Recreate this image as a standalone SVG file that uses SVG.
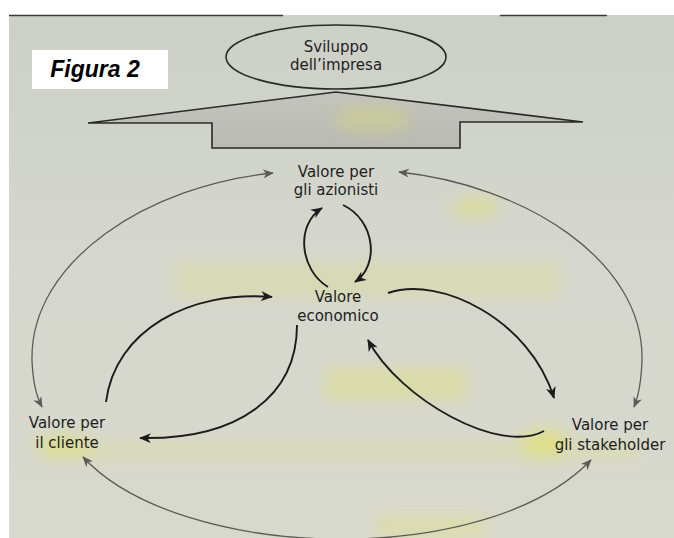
<svg xmlns="http://www.w3.org/2000/svg" width="674" height="538" viewBox="0 0 674 538">
  <style>
    .lbl { font-family: "DejaVu Sans", "Open Sans", sans-serif; font-size: 15px; fill: #1e1e1e; text-anchor: middle; }
    .inner { fill: none; stroke: #1c1c1c; stroke-width: 1.9; marker-end: url(#headBlack); }
    .outer { fill: none; stroke: #5a5a58; stroke-width: 1.3; marker-end: url(#headGray); marker-start: url(#headGray); }
    .hl { fill: #e2e45e; filter: url(#soft); }
  </style>
  <defs>
    <linearGradient id="page" x1="0" y1="0" x2="0" y2="1">
      <stop offset="0" stop-color="#cdd0c6"/>
      <stop offset="0.45" stop-color="#d5d7ce"/>
      <stop offset="1" stop-color="#d8d9cd"/>
    </linearGradient>
    <linearGradient id="arrowFill" x1="0" y1="0" x2="0" y2="1">
      <stop offset="0" stop-color="#c3c4be"/>
      <stop offset="1" stop-color="#b9bab3"/>
    </linearGradient>
    <filter id="soft" x="-50%" y="-80%" width="200%" height="260%">
      <feGaussianBlur stdDeviation="8"/>
    </filter>
    <clipPath id="bigClip">
      <polygon points="88,123 336,92 583,122 460,122 460,148 212,148 212,123"/>
    </clipPath>
    <marker id="headBlack" viewBox="0 0 12 10" refX="11" refY="5" markerWidth="12" markerHeight="10" markerUnits="userSpaceOnUse" orient="auto-start-reverse">
      <path d="M0,0 L12,5 L0,10 L3.5,5 Z" fill="#1c1c1c"/>
    </marker>
    <marker id="headGray" viewBox="0 0 12 10" refX="11" refY="5" markerWidth="11" markerHeight="9" markerUnits="userSpaceOnUse" orient="auto-start-reverse">
      <path d="M0,0 L12,5 L0,10 L3.5,5 Z" fill="#5a5a58"/>
    </marker>
  </defs>

  <!-- page / photo -->
  <rect x="0" y="0" width="674" height="538" fill="#ffffff"/>
  <rect x="9" y="15" width="665" height="523" fill="url(#page)"/>
  <line x1="9" y1="15.5" x2="283" y2="15.5" stroke="#3a3a38" stroke-width="1.5"/>
  <line x1="500" y1="15.5" x2="607" y2="15.5" stroke="#3a3a38" stroke-width="1.5"/>

  <!-- highlighter marks -->
  <g id="highlights">
    <rect class="hl" x="175" y="262" width="385" height="36" opacity="0.22"/>
    <ellipse class="hl" cx="475" cy="207" rx="24" ry="10" opacity="0.45"/>
    <rect class="hl" x="325" y="368" width="142" height="32" opacity="0.35"/>
    <rect class="hl" x="40" y="443" width="600" height="16" opacity="0.22"/>
    <ellipse class="hl" cx="545" cy="442" rx="24" ry="13" opacity="0.6"/>
    <ellipse class="hl" cx="65" cy="445" rx="30" ry="10" opacity="0.45"/>
    <rect class="hl" x="375" y="515" width="110" height="23" opacity="0.3"/>
  </g>

  <!-- Figura 2 label -->
  <g id="figura-label">
    <rect x="32" y="50" width="136" height="39" fill="#ffffff"/>
    <text x="95" y="77" font-family="'Liberation Sans', Arial, sans-serif" font-size="23" font-weight="bold" font-style="italic" fill="#000000" text-anchor="middle">Figura 2</text>
  </g>

  <!-- Sviluppo dell'impresa -->
  <g id="sviluppo">
    <ellipse cx="336" cy="57" rx="110" ry="32" fill="none" stroke="#2a2a28" stroke-width="1.6"/>
    <text class="lbl" font-size="14.5"><tspan x="336" y="52">Sviluppo</tspan><tspan x="336" y="70">dell’impresa</tspan></text>
  </g>

  <!-- big arrow shape -->
  <g id="big-arrow">
    <polygon points="88,123 336,92 583,122 460,122 460,148 212,148 212,123" fill="url(#arrowFill)"/>
    <ellipse cx="372" cy="119" rx="40" ry="13" fill="#d8dc70" opacity="0.4" filter="url(#soft)" clip-path="url(#bigClip)"/>
    <polygon points="88,123 336,92 583,122 460,122 460,148 212,148 212,123" fill="none" stroke="#2a2a28" stroke-width="1.6" stroke-linejoin="miter"/>
  </g>

  <!-- nodes -->
  <g id="azionisti">
    <text class="lbl"><tspan x="336" y="177">Valore per</tspan><tspan x="336" y="195">gli azionisti</tspan></text>
  </g>
  <g id="economico">
    <text class="lbl" font-size="16"><tspan x="338" y="302">Valore</tspan><tspan x="338" y="321">economico</tspan></text>
  </g>
  <g id="cliente">
    <text class="lbl"><tspan x="67" y="428">Valore per</tspan><tspan x="67" y="448">il cliente</tspan></text>
  </g>
  <g id="stakeholder">
    <text class="lbl" font-size="16"><tspan x="610" y="430">Valore per</tspan><tspan x="610" y="450">gli stakeholder</tspan></text>
  </g>

  <!-- connectors -->
  <g id="connectors">
    <!-- inner loop azionisti / economico -->
    <path class="inner" d="M328,287 C300,270 295,225 322,208"/>
    <path class="inner" d="M343,205 C375,220 380,265 355,282"/>
    <!-- cliente -> economico -->
    <path class="inner" d="M106,402 C115,330 190,290 272,297"/>
    <!-- economico -> cliente -->
    <path class="inner" d="M297,325 C297,395 240,440 140,438"/>
    <!-- economico -> stakeholder -->
    <path class="inner" d="M388,293 C440,275 530,320 554,398"/>
    <!-- stakeholder -> economico -->
    <path class="inner" d="M544,431 C500,455 400,400 368,340"/>
    <!-- outer bidirectional arcs -->
    <path class="outer" d="M273,173 C150,185 30,260 32,360 Q33,390 42,407"/>
    <path class="outer" d="M399,172 C524,185 644,260 642,360 Q641,390 634,407"/>
    <path class="outer" d="M83,457 C180,562 485,570 591,460"/>
  </g>
</svg>
